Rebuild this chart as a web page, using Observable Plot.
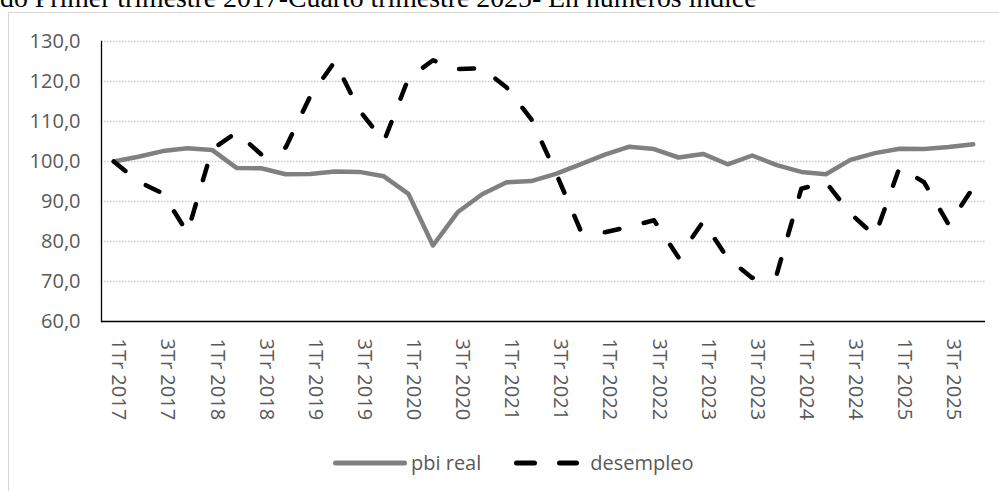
<!DOCTYPE html>
<html><head><meta charset="utf-8">
<script src="https://cdn.jsdelivr.net/npm/d3@7"></script>
<script src="https://cdn.jsdelivr.net/npm/@observablehq/plot@0.6"></script>
<style>
body{margin:0;background:#fff;}
#wrap{position:relative;width:999px;height:491px;overflow:hidden;background:#fff;}
#frame{position:absolute;left:8px;top:12px;width:1200px;height:700px;border:1px solid #d9d9d9;box-sizing:border-box;}
#title{position:absolute;left:0;top:-16px;font-family:"Liberation Serif";font-size:27.8px;line-height:27px;white-space:nowrap;color:#000;}
#chart{position:absolute;left:0;top:0;}
#legend{position:absolute;left:331px;top:450px;display:flex;align-items:center;font-family:"Open Sans";font-size:20px;color:#595959;line-height:26px;}
#legend .item{display:flex;align-items:center;}
#legend svg{display:block;}
</style>
</head><body>
<div id="wrap">
  <div id="frame"></div>
  <div id="title"></div>
  <div id="chart"></div>
  <div id="legend"></div>
</div>
<script>
const titleText = "do Primer trimestre 2017-Cuarto trimestre 2025- En números índice";
const quarters = [
  "1Tr 2017","2Tr 2017","3Tr 2017","4Tr 2017",
  "1Tr 2018","2Tr 2018","3Tr 2018","4Tr 2018",
  "1Tr 2019","2Tr 2019","3Tr 2019","4Tr 2019",
  "1Tr 2020","2Tr 2020","3Tr 2020","4Tr 2020",
  "1Tr 2021","2Tr 2021","3Tr 2021","4Tr 2021",
  "1Tr 2022","2Tr 2022","3Tr 2022","4Tr 2022",
  "1Tr 2023","2Tr 2023","3Tr 2023","4Tr 2023",
  "1Tr 2024","2Tr 2024","3Tr 2024","4Tr 2024",
  "1Tr 2025","2Tr 2025","3Tr 2025","4Tr 2025"
];
const xTickLabels = [
  "1Tr 2017","3Tr 2017","1Tr 2018","3Tr 2018","1Tr 2019","3Tr 2019",
  "1Tr 2020","3Tr 2020","1Tr 2021","3Tr 2021","1Tr 2022","3Tr 2022",
  "1Tr 2023","3Tr 2023","1Tr 2024","3Tr 2024","1Tr 2025","3Tr 2025"
];
const pbiReal = [
  100.0, 101.2, 102.6, 103.3, 102.9, 98.4, 98.3, 96.8, 96.9,
  97.5, 97.4, 96.3, 91.9, 79.0, 87.3, 91.8, 94.8, 95.1,
  96.9, 99.3, 101.7, 103.7, 103.1, 101.0, 101.9, 99.3, 101.5,
  99.1, 97.4, 96.8, 100.4, 102.1, 103.2, 103.1, 103.6, 104.3
];
const desempleo = [
  100.0, 95.0, 92.0, 82.2, 103.0, 107.3, 101.8, 103.5, 116.3,
  125.0, 112.8, 105.0, 120.8, 125.3, 123.1, 123.3, 118.5, 110.6,
  97.2, 82.9, 82.3, 83.7, 85.3, 76.0, 85.0, 75.8, 70.9,
  71.8, 93.2, 94.8, 87.0, 81.4, 98.5, 94.8, 84.2, 93.5
];
const yTicks = [60, 70, 80, 90, 100, 110, 120, 130];
const gridTicks = [70, 80, 90, 100, 110, 120, 130];
const seriesNames = ["pbi real", "desempleo"];

const rows = quarters.map((q, i) => ({q, pbi: pbiReal[i], des: desempleo[i]}));

document.getElementById("title").textContent = titleText;

const chart = Plot.plot({
  width: 999,
  height: 430,
  marginLeft: 101,
  marginRight: 14,
  marginTop: 41,
  marginBottom: 109,
  style: {fontFamily: "Open Sans", fontSize: "20px", color: "#595959", background: "transparent", overflow: "visible"},
  x: {type: "point", domain: quarters, padding: 0.5, round: false, axis: null},
  y: {domain: [60, 130], axis: null},
  marks: [
    Plot.gridY(gridTicks, {stroke: "#c8c8c8", strokeOpacity: 1, strokeWidth: 1.3, strokeDasharray: "1.5,1.5"}),
    Plot.axisY(yTicks, {tickSize: 0, tickPadding: 21, tickFormat: d => d.toFixed(1).replace(".", ","), fill: "#595959", fontSize: 20}),
    Plot.frame({anchor: "left", stroke: "#000", strokeWidth: 1.3, strokeDasharray: "1.5,1.5"}),
    Plot.ruleY([60], {stroke: "#000", strokeWidth: 1.6}),
    Plot.text(xTickLabels, {x: d => d, frameAnchor: "bottom", rotate: 90, textAnchor: "start", dy: 17, dx: -1.5, fill: "#595959", fontSize: 20}),
    Plot.lineY(rows, {x: "q", y: "pbi", stroke: "#808080", strokeWidth: 4.5, strokeLinejoin: "round", strokeLinecap: "round"}),
    Plot.lineY(rows, {x: "q", y: "des", stroke: "#000", strokeWidth: 4.5, strokeLinejoin: "round", strokeLinecap: "round", strokeDasharray: "15,25"})
  ]
});
document.getElementById("chart").appendChild(chart);

const legend = document.getElementById("legend");
legend.innerHTML =
  '<div class="item"><svg width="78" height="12"><line x1="4.5" y1="6" x2="73.5" y2="6" stroke="#808080" stroke-width="5" stroke-linecap="round"/></svg>' +
  '<span style="margin-left:2px">' + seriesNames[0] + '</span></div>' +
  '<div class="item" style="margin-left:31px"><svg width="70" height="12"><line x1="4.5" y1="6" x2="64.5" y2="6" stroke="#000" stroke-width="5" stroke-linecap="round" stroke-dasharray="18,25"/></svg>' +
  '<span style="margin-left:8px">' + seriesNames[1] + '</span></div>';
</script>
</body></html>
